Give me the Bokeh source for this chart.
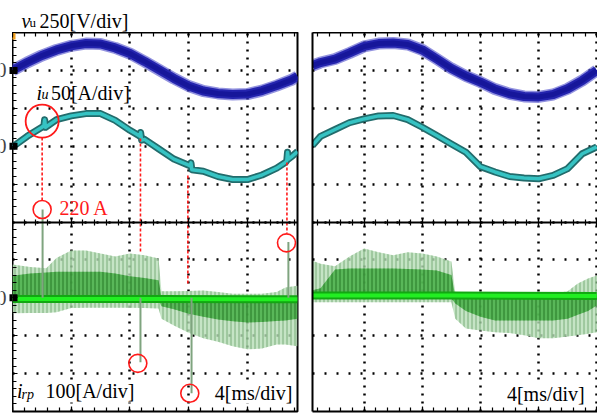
import numpy as np
from bokeh.plotting import figure
from bokeh.models import Range1d, LinearAxis, SingleIntervalTicker, Label
from bokeh.layouts import row, column
from bokeh.embed import file_html
from bokeh.resources import INLINE

# ---------------- channel settings ----------------
ch_scale = [250, 50, 100]      # v_u [V/div], i_u [A/div], i_rp [A/div]
ch_ground = [9, 7, 3]          # ground marker, divisions from the bottom
ms_per_div = 4

# ---------------- left capture ----------------
L_vu_t = [0, 1, 2, 3, 4, 5, 6, 7, 8, 9, 10, 11, 12, 13, 14, 15, 16, 17, 18, 19, 19.42]
L_vu = [0, 52, 98, 135, 162, 177, 174, 148, 111, 59, 3, -53, -103, -136, -152, -159, -156, -133, -100, -63, -40]

L_iu_t = [0, 1, 2, 2.14, 2.19, 2.25, 3, 4, 5, 6, 7, 8, 8.6, 8.68, 8.73, 8.8, 9, 10, 11, 12, 12.1,
          12.16, 12.22, 13, 14, 15, 16, 17, 18, 18.62, 18.69, 18.74, 18.8, 19, 19.42]
L_iu = [-1, 13, 25, 27, 35, 25, 35, 40, 43, 43, 34, 21, 14, 13, 18, 8, 9, -4, -17, -25, -26,
        -22, -31, -33, -40, -44, -44, -38, -29, -21, -19, -8, -17, -14, -7]

L_rp_t = [0, 1.2, 2.3, 3.0, 4.0, 5.0, 6.0, 7.0, 8.0, 9.0, 9.95, 10.15, 11.0, 12.0, 13.0, 14.0,
          15.0, 16.0, 17.0, 18.0, 18.6, 19.42]
L_env_hi = [88, 81, 78, 105, 125, 125, 117, 109, 117, 112, 104, 17, 17, 18, 19, 15, 11, 11, 11, 15, 27, 32]
L_env_lo = [-41, -40, -40, -38, -27, -26, -26, -26, -26, -27, -28, -55, -73, -92, -107, -116,
            -128, -136, -134, -123, -123, -128]
L_dark_hi = [58, 64, 67, 69, 69, 69, 69, 64, 57, 52, 46, 3, 3, 3, 3, 3, 3, 3, 3, 3, 3, 3]
L_dark_lo = [-4, -4, -4, -4, -4, -4, -4, -4, -4, -4, -4, -22, -30, -42, -50, -57, -62, -65, -64,
             -61, -60, -55]
L_dc_t = [0, 10, 19.42]
L_dc = [-3, -3, -4]

# switching spikes of i_rp and the marked events
spike_t = [2.05, 8.72, 12.2, 18.8]
spike_peak = [233, -170, -252, 147]
circ_t = [2.02, 8.54, 12.08, 18.67]
circ_rp = [233, -173, -252, 145]
big_circ_t = [2.02]
big_circ_iu = [33]
ann_t = [2.02, 8.72, 11.95, 18.7]
ann_top_div = [7.23, 7.2, 6.23, 6.57]
ann_bot_div = [5.57, 4.2, 3.38, 4.7]

# ---------------- right capture ----------------
R_t = [0.45, 1, 2, 3, 4, 5, 6, 7, 8, 9, 10, 11, 12, 13, 14, 15, 16, 17, 18, 19, 20]
R_vu = [32, 52, 75, 115, 158, 177, 181, 171, 135, 75, 13, -37, -77, -123, -154, -172, -175, -159, -121, -67, 0]
R_iu = [1, 13, 22, 31, 36, 40, 40.5, 35, 25, 14, 3, -8, -27, -34, -40, -42, -43, -38.5, -29.5, -10, -1]

R_rp_t = [0.45, 1.0, 2.0, 3.0, 4.0, 5.0, 6.0, 7.0, 8.0, 9.0, 10.0, 10.27, 11, 12, 13, 14, 15, 16,
          17, 18, 18.7, 19.4, 20.0]
R_env_hi = [98, 90, 83, 109, 130, 120, 112, 120, 117, 109, 96, 14, 11, 11, 11, 11, 11, 11, 11, 17, 38, 51, 59]
R_env_lo = [-12, -12, -12, -12, -12, -12, -12, -12, -12, -12, -12, -55, -81, -86, -91, -93, -99,
            -107, -107, -102, -99, -95, -91]
R_dark_hi = [20, 25, 75, 77, 77, 77, 77, 76, 75, 72, 60, 4, 4, 4, 4, 4, 4, 4, 4, 4, 4, 4, 4]
R_dark_lo = [-2, -2, -2, -2, -2, -2, -2, -2, -2, -2, -2, -15, -35, -50, -60, -60, -60, -60, -60,
             -55, -45, -35, -20]
R_dc_t = [0.45, 10, 20]
R_dc = [6, 6, 5]

SERIF = "Liberation Serif"
BLUE_FUZZ, BLUE_OUT, BLUE_IN = "#3a3ac4", "#2424ae", "#16169a"
TEAL_OUT, TEAL_IN = "#226c6c", "#36c3c3"
RED = "#ff1a1a"

DIV_RANGE = Range1d(0, 10)   # screen divisions, shared by both captures and the marker strip


def make_panel(x0, x1, width, b_left, b_right, left_ticks, outline):
    p = figure(width=width, height=381, x_range=Range1d(x0, x1), y_range=DIV_RANGE,
               output_backend="svg", toolbar_location=None, title=None,
               x_axis_location="below", y_axis_location="left",
               min_border_left=b_left, min_border_right=b_right, min_border_top=0,
               min_border_bottom=2, background_fill_color="white", border_fill_color="white",
               outline_line_color="black" if outline else None, outline_line_width=2)
    names = ["vu", "iu", "irp"]
    p.extra_y_ranges = {
        n: Range1d(-g * s, (10 - g) * s) for n, g, s in zip(names, ch_ground, ch_scale)
    }
    xt = SingleIntervalTicker(interval=ms_per_div, num_minor_ticks=5)
    yt = SingleIntervalTicker(interval=1, num_minor_ticks=5)

    def style_axis(ax, tin=5, mtin=4, line=False):
        ax.major_label_text_font_size = "1px"
        ax.major_label_text_color = None
        ax.major_label_standoff = 0
        ax.axis_line_color = "black" if line else None
        ax.axis_line_width = 2
        ax.major_tick_in = tin
        ax.major_tick_out = 0
        ax.minor_tick_in = mtin
        ax.minor_tick_out = 0
        ax.major_tick_line_color = "black" if tin else None
        ax.minor_tick_line_color = "black" if mtin else None
        ax.major_tick_line_width = 1.2
        ax.minor_tick_line_width = 1.2

    for ax in p.xaxis:
        ax.ticker = xt
        style_axis(ax, line=not outline)
    for ax in p.yaxis:
        ax.ticker = yt
        if left_ticks:
            style_axis(ax, line=not outline)
        else:
            style_axis(ax, 0, 0, line=True)
    top = LinearAxis(ticker=xt)
    style_axis(top, line=not outline)
    p.add_layout(top, "above")
    center = LinearAxis(ticker=xt, fixed_location=5)
    style_axis(center, 4, 3, line=True)
    center.major_tick_out = 4
    center.minor_tick_out = 3
    p.add_layout(center, "below")

    p.xgrid.ticker = xt
    p.ygrid.ticker = yt
    p.xgrid.grid_line_color = "black"
    p.xgrid.grid_line_width = 2.5
    p.xgrid.grid_line_dash = "2 6"
    p.ygrid.grid_line_color = "black"
    p.ygrid.grid_line_width = 2.5
    p.ygrid.grid_line_dash = "2 10"
    return p


def draw_traces(p, vu_t, vu, iu_t, iu, rp_t, env_hi, env_lo, dark_hi, dark_lo, dc_t, dc):
    p.varea(x=rp_t, y1=env_lo, y2=env_hi, y_range_name="irp", fill_color="#b6ddb6", fill_alpha=0.8,
            hatch_pattern="|", hatch_color="#5f9a5f", hatch_alpha=0.75, hatch_scale=4, hatch_weight=1)
    p.varea(x=rp_t, y1=dark_lo, y2=dark_hi, y_range_name="irp", fill_color="#34a834", fill_alpha=0.75,
            hatch_pattern="|", hatch_color="#1a5e1a", hatch_alpha=0.6, hatch_scale=4, hatch_weight=1)
    p.line(dc_t, dc, y_range_name="irp", line_color="#12a812", line_width=8)
    p.line(dc_t, dc, y_range_name="irp", line_color="#22ee22", line_width=4)
    p.line(iu_t, iu, y_range_name="iu", line_color=TEAL_OUT, line_width=7, line_join="round")
    p.line(iu_t, iu, y_range_name="iu", line_color=TEAL_IN, line_width=3.5, line_join="round")
    p.line(vu_t, vu, y_range_name="vu", line_color=BLUE_FUZZ, line_width=12, line_alpha=0.55,
           line_join="round")
    p.line(vu_t, vu, y_range_name="vu", line_color=BLUE_OUT, line_width=9, line_join="round")
    p.line(vu_t, vu, y_range_name="vu", line_color=BLUE_IN, line_width=5, line_join="round")


def add_text(p, x, y, text, size="20px", style="normal", color="black", align="left", bg=None):
    p.add_layout(Label(x=x, y=y, text=text, text_font=SERIF, text_font_size=size,
                       text_font_style=style, text_color=color, text_align=align,
                       text_baseline="alphabetic", background_fill_color=bg))


# ---------------- title strip (pixel coordinates, y measured upward) ----------------
title = figure(width=597, height=32, x_range=Range1d(0, 597), y_range=Range1d(0, 32),
               output_backend="svg", toolbar_location=None, title=None,
               x_axis_location=None, y_axis_location=None, min_border=0,
               outline_line_color=None)
title.grid.visible = False
add_text(title, 21, 12, "v", style="italic")
add_text(title, 29, 10, "u", size="13px")
add_text(title, 39, 12, f"{ch_scale[0]}[V/div]")

# ---------------- ground-marker strip ----------------
strip = figure(width=12, height=381, x_range=Range1d(0, 12), y_range=DIV_RANGE,
               output_backend="svg", toolbar_location=None, title=None,
               x_axis_location=None, y_axis_location=None, min_border=0,
               min_border_bottom=2, outline_line_color=None)
strip.grid.visible = False
for g in ch_ground:
    strip.add_layout(Label(x=6, y=g, text="0", text_font=SERIF, text_font_size="20px",
                           text_align="right", text_baseline="middle"))
strip.rect(x=[12, 12, 12], y=ch_ground, width=6, height=7, width_units="screen",
           height_units="screen", fill_color="black", line_color=None)

# ---------------- left panel ----------------
L_end = 19.42
left = make_panel(0, L_end, 293, 0, 8, True, True)
draw_traces(left, L_vu_t, L_vu, L_iu_t, L_iu, L_rp_t, L_env_hi, L_env_lo, L_dark_hi, L_dark_lo, L_dc_t, L_dc)
left.segment(x0=spike_t, y0=[0] * len(spike_t), x1=spike_t, y1=spike_peak, y_range_name="irp",
             line_color="#7fa47f", line_width=2)
left.segment(x0=ann_t, y0=ann_top_div, x1=ann_t, y1=ann_bot_div, line_color=RED, line_width=1.6,
             line_dash="3 2")
left.scatter(circ_t, circ_rp, y_range_name="irp", marker="circle", size=18, fill_color=None,
             line_color=RED, line_width=1.6)
left.scatter(big_circ_t, big_circ_iu, y_range_name="iu", marker="circle", size=33, fill_color=None,
             line_color=RED, line_width=1.8)
left.rect(x=[0, 0, 0], y=ch_ground, width=10, height=7, width_units="screen", height_units="screen",
          fill_color="black", line_color=None)
left.rect(x=[0], y=[10], width=6, height=14, width_units="screen", height_units="screen",
          fill_color="#f0a020", line_color=None)

add_text(left, 1.64, 8.41, "i", style="italic")
add_text(left, 1.98, 8.36, "u", size="14px", style="italic")
add_text(left, 2.62, 8.41, f"{ch_scale[1]}[A/div]")
add_text(left, 3.2, 5.38, "220 A", color=RED)
add_text(left, 0.3, 0.53, "i", style="italic", bg="white")
add_text(left, 0.62, 0.45, "rp", size="14px", style="italic", bg="white")
add_text(left, 2.25, 0.53, f"{ch_scale[2]}[A/div]", bg="white")
add_text(left, 19.08, 0.5, f"{ms_per_div}[ms/div]", align="right", bg="white")

# ---------------- right panel ----------------
right = make_panel(0.45, 20.05, 292, 7, 0, False, False)
draw_traces(right, R_t, R_vu, R_t, R_iu, R_rp_t, R_env_hi, R_env_lo, R_dark_hi, R_dark_lo, R_dc_t, R_dc)
add_text(right, 19.17, 0.47, f"{ms_per_div}[ms/div]", align="right", bg="white")

layout = column(title, row(strip, left, right))
open("out.html", "w").write(file_html(layout, INLINE))
